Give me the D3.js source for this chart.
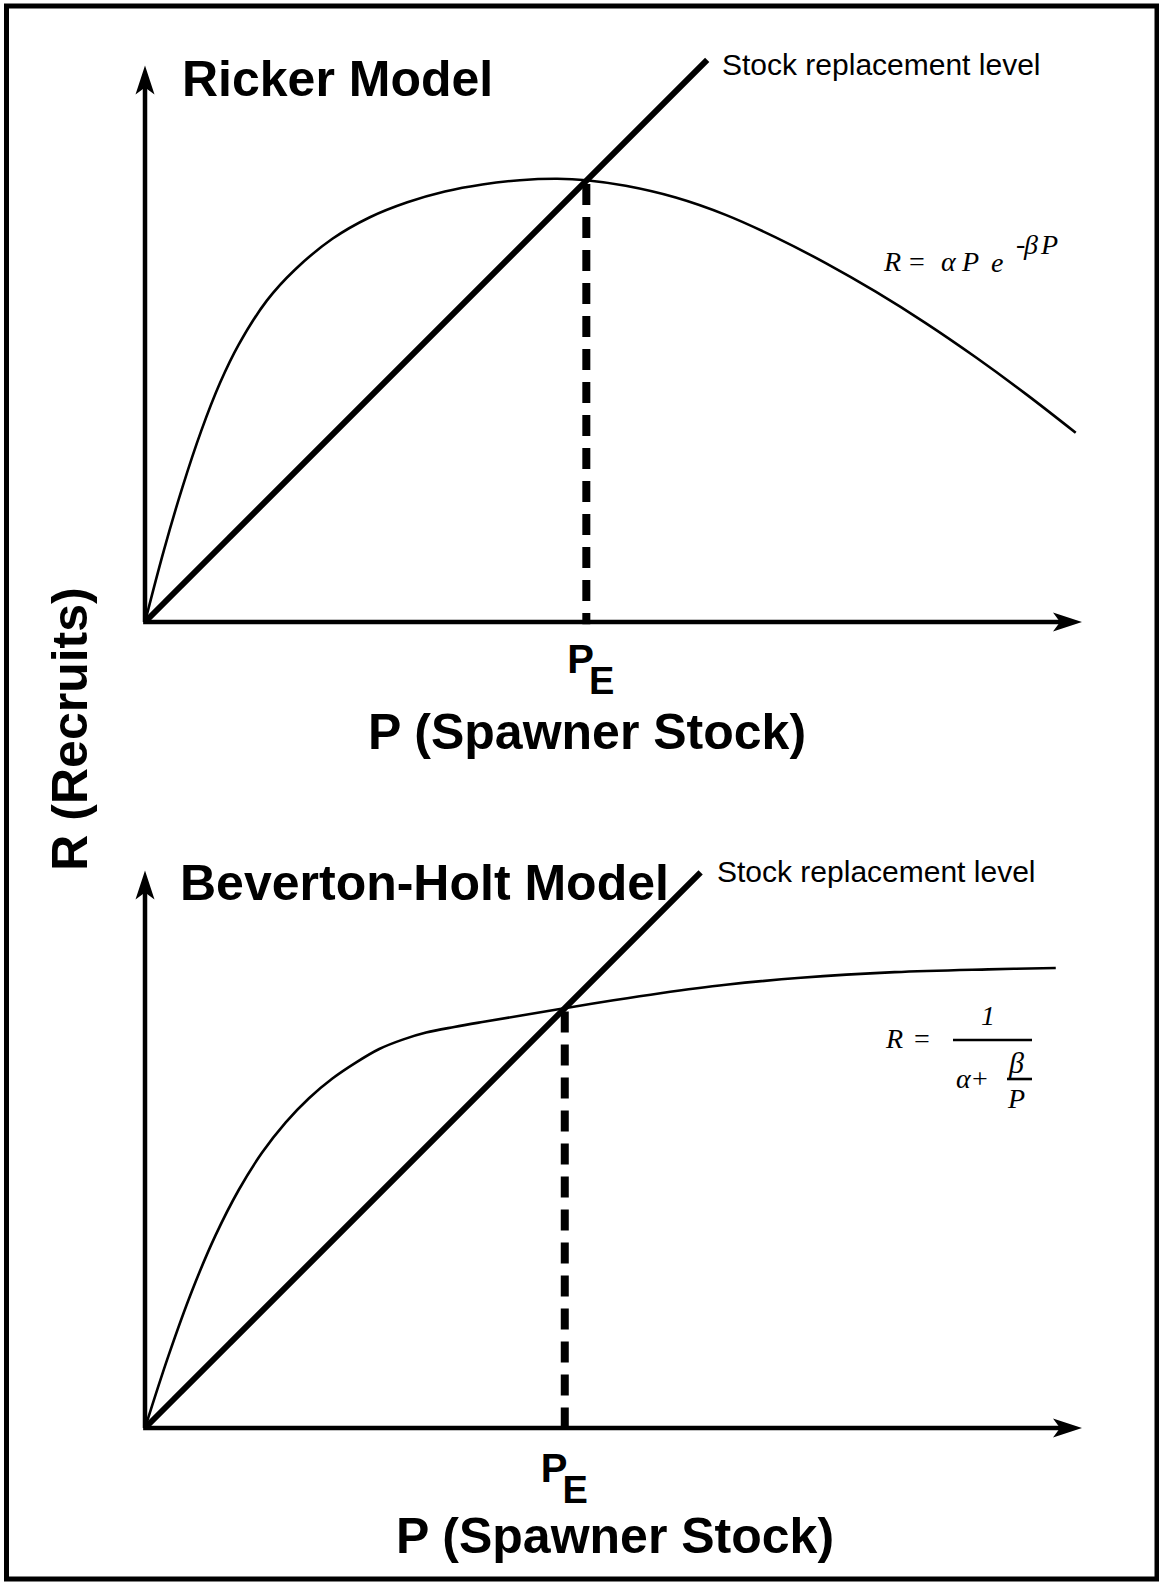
<!DOCTYPE html>
<html><head><meta charset="utf-8">
<script src="https://cdn.jsdelivr.net/npm/d3@7"></script>
<style>body{margin:0;background:#fff}svg{display:block}</style>
</head><body>
<svg id="c" width="1159" height="1587"></svg>
<script>
// ---- data (P = spawner stock, R = recruits, arbitrary units) ----
const rickerP = [0,2,4,6,8,10,13,16,20,24,28,32,36,40,44,47.1,51.3,56.64,61.97,67.31,72.65,77.98,83.32,88.66,93.99,99.33];
const rickerR = [0,7.6,14.4,20.4,25.5,29.6,34.3,37.6,40.9,43.2,44.8,45.95,46.7,47.15,47.3,47.15,46.55,45.3,43.45,41.05,38.3,35.25,31.9,28.25,24.35,20.2];
const bhP = [0,2.5,5,7.5,10,12.5,15,17.5,20,22.5,25,27.5,30,33,36,40,44.8,50,55,62,70,80,90,97.2];
const bhR = [0,7.7,14.6,20.5,25.4,29.4,32.6,35.2,37.3,39.0,40.45,41.45,42.2,42.8,43.33,44.0,44.8,45.65,46.4,47.3,48.05,48.65,48.95,49.1];
const replTopP = [0, 60.0];
const replBotP = [0, 59.3];
const peTop = 47.1;
const peBot = 44.8;
const axisPMax = 100;
const axisRMaxTop = 59.4;
const axisRMaxBot = 59.5;
const titles = ["Ricker Model", "Beverton-Holt Model"];
const replLabel = "Stock replacement level";
const xLabel = "P (Spawner Stock)";
const yLabel = "R (Recruits)";

const svg = d3.select("#c");
svg.append("rect").attr("x",6.5).attr("y",6).attr("width",1150.5).attr("height",1573)
  .attr("fill","none").attr("stroke","#000").attr("stroke-width",5);

const x = d3.scaleLinear().domain([0,100]).range([145,1082]);
const yTop = d3.scaleLinear().domain([0,100]).range([622,622-937]);
const yBot = d3.scaleLinear().domain([0,100]).range([1428,1428-937]);

const SANS = "'Liberation Sans', Arial, Helvetica, sans-serif";
const SERIF = "'Liberation Serif', 'Times New Roman', serif";

function arrow(tx, ty, angle){
  svg.append("path").attr("d","M0,0 L-29,-9.5 L-22,0 L-29,9.5 Z")
    .attr("transform",`translate(${tx},${ty}) rotate(${angle})`).attr("fill","#000");
}

function panel(y, curveP, curveR, replP, pe, rMax){
  const g = svg.append("g");
  const line = d3.line().x(d=>x(d[0])).y(d=>y(d[1]));
  g.append("path").attr("d", line([[0,0],[0,rMax-1.5]])).attr("stroke","#000").attr("stroke-width",4.5).attr("fill","none");
  g.append("path").attr("d", line([[-0.2,0],[axisPMax-1.5,0]])).attr("stroke","#000").attr("stroke-width",4.5).attr("fill","none");
  arrow(x(0), y(rMax), -90);
  arrow(x(axisPMax), y(0), 0);
  g.append("path").attr("d", line(replP.map(p=>[p,p]))).attr("stroke","#000").attr("stroke-width",6).attr("fill","none");
  const cl = d3.line().x(d=>x(d[0])).y(d=>y(d[1])).curve(d3.curveCatmullRom.alpha(0.5));
  const pts = curveP.map((p,i)=>[p,curveR[i]]);
  g.append("path").attr("d", cl(pts)).attr("stroke","#000").attr("stroke-width",2.6).attr("fill","none");
  g.append("path").attr("d", line([[pe,pe-0.35],[pe,-0.25]])).attr("stroke","#000").attr("stroke-width",8)
    .attr("stroke-dasharray","21,12").attr("fill","none");
  return g;
}

panel(yTop, rickerP, rickerR, replTopP, peTop, axisRMaxTop);
panel(yBot, bhP, bhR, replBotP, peBot, axisRMaxBot);

function txt(s, xx, yy, size, opts={}){
  const t = svg.append("text").attr("x",xx).attr("y",yy).text(s)
    .attr("font-family", opts.serif?SERIF:SANS).attr("font-size",size)
    .attr("font-weight", opts.bold?"bold":"normal")
    .attr("font-style", opts.italic?"italic":"normal")
    .attr("text-anchor", opts.anchor||"start").attr("fill","#000");
  if(opts.rotate) t.attr("transform",`rotate(${opts.rotate},${xx},${yy})`);
  return t;
}

txt(titles[0], 182, 96, 50, {bold:true});
txt(titles[1], 180, 900, 50, {bold:true});
txt(replLabel, 722, 75, 30);
txt(replLabel, 717, 882, 30);
txt(xLabel, 587, 749, 50, {bold:true, anchor:"middle"});
txt(xLabel, 615, 1553, 50, {bold:true, anchor:"middle"});
txt(yLabel, 87, 729, 50, {bold:true, anchor:"middle", rotate:-90});

function peLabel(xx, yy){
  const t = txt("P", xx, yy, 40, {bold:true});
  t.append("tspan").attr("dx",-5).attr("dy",21).attr("font-size",38).text("E");
}
peLabel(x(peTop)-19, 673);
peLabel(x(peBot)-24, 1482);

const fs = 28;
txt("R", 884, 271, fs, {serif:true, italic:true});
txt("=", 909, 271, fs, {serif:true});
txt("α", 941, 271, fs, {serif:true, italic:true});
txt("P", 962, 271, fs, {serif:true, italic:true});
txt("e", 991, 272, fs, {serif:true, italic:true});
txt("-", 1016, 253, fs, {serif:true});
txt("β", 1024, 254, fs, {serif:true, italic:true});
txt("P", 1041, 254, fs, {serif:true, italic:true});

txt("R", 886, 1048, fs, {serif:true, italic:true});
txt("=", 914, 1048, fs, {serif:true});
svg.append("line").attr("x1",953).attr("x2",1032).attr("y1",1040).attr("y2",1040).attr("stroke","#000").attr("stroke-width",2.6);
txt("1", 981, 1025, fs, {serif:true, italic:true});
txt("α", 956, 1088, fs, {serif:true, italic:true});
txt("+", 972, 1088, fs, {serif:true});
txt("β", 1009, 1073, 30, {serif:true, italic:true});
svg.append("line").attr("x1",1007).attr("x2",1032).attr("y1",1079).attr("y2",1079).attr("stroke","#000").attr("stroke-width",2.6);
txt("P", 1008, 1108, fs, {serif:true, italic:true});
</script>
</body></html>
